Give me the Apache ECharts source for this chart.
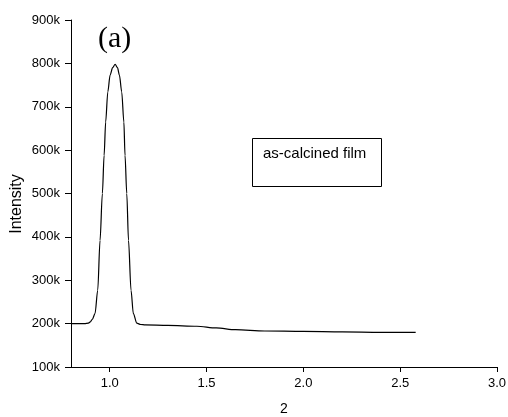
<!DOCTYPE html>
<html>
<head>
<meta charset="utf-8">
<style>html,body{margin:0;padding:0;background:#fff}#c{width:508px;height:417px}</style>
<script src="https://cdn.jsdelivr.net/npm/echarts@6/dist/echarts.min.js"></script>
</head>
<body>
<div id="c"></div>
<script>
var twoTheta = [0.80, 0.85, 0.87, 0.89, 0.90, 0.91, 0.924, 0.938, 0.95, 0.962, 0.971, 0.979, 0.99, 1.002, 1.015, 1.028, 1.04, 1.05, 1.062, 1.073, 1.079, 1.088, 1.097, 1.11, 1.122, 1.14, 1.16, 1.183, 1.3, 1.45, 1.55, 1.65, 1.8, 2.0, 2.2, 2.4, 2.58];
var intensity = [200, 200, 200, 201, 204, 210, 223, 277, 392, 500, 588, 665, 734, 773, 790, 798, 790, 773, 734, 665, 588, 500, 392, 277, 223, 201, 198, 197, 196, 194, 190, 186, 183, 182, 181, 180, 180].map(function(v){return v*1000;});
var xTicks = [1.0, 1.5, 2.0, 2.5, 3.0];
var xTickLabels = ['1.0', '1.5', '2.0', '2.5', '3.0'];
var yTicks = [100, 200, 300, 400, 500, 600, 700, 800, 900];
var xName = '2';
var yName = 'Intensity';
var legendText = 'as-calcined film';
var panelText = '(a)';

var data = twoTheta.map(function(x, i){return [x, intensity[i]];});
var chart = echarts.init(document.getElementById('c'), null, {renderer: 'canvas'});
var font = '"Liberation Sans", Arial, sans-serif';
chart.setOption({
  animation: false,
  backgroundColor: '#fff',
  grid: {left: 71, right: 11, top: 20, bottom: 50, containLabel: false, outerBoundsMode: 'none'},
  xAxis: {
    type: 'value', min: 0.8, max: 3.0,
    name: xName, nameLocation: 'middle', nameGap: 35,
    nameTextStyle: {fontFamily: font, fontSize: 14, color: '#000'},
    axisLine: {show: true, onZero: false, lineStyle: {color: '#000', width: 1}},
    axisTick: {show: true, inside: false, length: 5, customValues: xTicks, lineStyle: {color: '#000'}},
    axisLabel: {customValues: xTicks, margin: 10, fontFamily: font, fontSize: 13, color: '#000',
      formatter: function(v){ var i = xTicks.indexOf(v); return i >= 0 ? xTickLabels[i] : ''; }},
    splitLine: {show: false}
  },
  yAxis: {
    type: 'value', min: yTicks[0]*1000, max: yTicks[yTicks.length-1]*1000, interval: 100000,
    axisLine: {show: true, onZero: false, lineStyle: {color: '#000', width: 1}},
    axisTick: {show: true, inside: false, length: 6, lineStyle: {color: '#000'}},
    axisLabel: {margin: 11, fontFamily: font, fontSize: 13, color: '#000',
      formatter: function(v){ return (v/1000) + 'k'; }},
    splitLine: {show: false}
  },
  series: [{
    type: 'line', data: data, showSymbol: false, symbol: 'none',
    smooth: 0.3, smoothMonotone: 'x',
    lineStyle: {color: '#000', width: 1.2}
  }],
  graphic: [
    {type: 'text', x: 16.5, y: 204, rotation: Math.PI/2,
      style: {text: yName, font: '16px "Liberation Sans", Arial, sans-serif', fill: '#000', align: 'center', verticalAlign: 'middle'}},
    {type: 'text', left: 98, top: 24, style: {text: panelText, font: '30px "Liberation Serif", "Times New Roman", serif', fill: '#000'}},
    {type: 'rect', shape: {x: 252.5, y: 138.5, width: 129, height: 48}, style: {fill: '#fff', stroke: '#000', lineWidth: 1}},
    {type: 'text', left: 263, top: 146, style: {text: legendText, font: '15px "Liberation Sans", Arial, sans-serif', fill: '#000'}}
  ]
});
</script>
</body>
</html>
